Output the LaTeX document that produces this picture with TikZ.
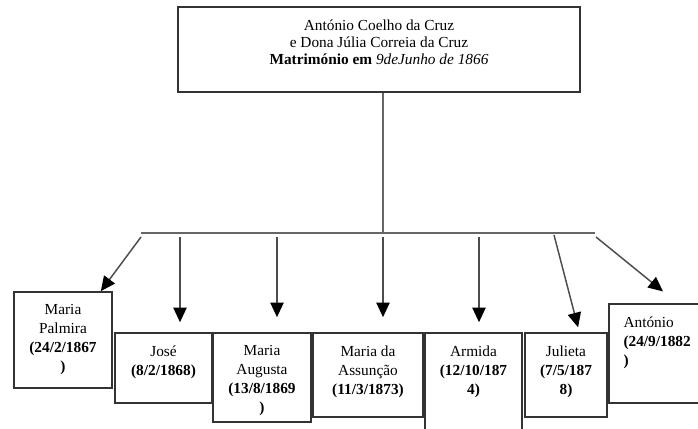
\documentclass[tikz,border=0pt]{standalone}
\usepackage{fontspec}
\setmainfont{Liberation Serif}
\usetikzlibrary{arrows.meta,fit}

\tikzset{every picture/.style={line width=0.75pt}}

\begin{document}
\begin{tikzpicture}[x=0.75pt,y=0.75pt,yscale=-1,xscale=1,
    box/.style={draw=black!80,line width=1.2pt,inner sep=0pt},
    kidtext/.style={inner sep=0pt,align=center,font=\fontsize{11.5}{14.25}\selectfont},
    bar/.style={draw=black!60,line width=1.6pt},
    arr/.style={draw=black!70,line width=1.1pt,-{Triangle[length=11pt,width=10pt,color=black]}}]
        \clip (0,0) rectangle (698,428);

        %Shape: Rectangle [parents]
        \node[box,fit={(178,7) (580,92)}] (parents) {};
        % Text Node
        \node[kidtext,font=\fontsize{11.5}{13}\selectfont,anchor=north] (parentsT) at (379,19) {António Coelho da Cruz\\e Dona Júlia Correia da Cruz\\\textbf{Matrimónio em} \textit{9deJunho de 1866}};

        %Straight Lines [stem and bar]
        \coordinate (stem) at (383,233);
        \coordinate (barL) at (141,233);
        \coordinate (barR) at (595,233);
        \draw[bar] (parents.south -| stem) -- (stem);
        \draw[bar] (barL) -- (barR);

        %Shape: Rectangle [children]
        \node[box,fit={(14,292) (112,388)}] (palmira) {};
        \node[box,fit={(115,333) (212,403)}] (jose) {};
        \node[box,fit={(213,333) (311,422)}] (augusta) {};
        \node[box,fit={(313,333) (423,417)}] (assuncao) {};
        \node[box,fit={(425,333) (522,450)}] (armida) {};
        \node[box,fit={(525,333) (607,417)}] (julieta) {};
        \node[box,fit={(609,304) (746,403)}] (antonio) {};

        % Text Node
        \node[kidtext,anchor=north] (palmiraT) at (63,304) {Maria\\Palmira\\\textbf{(24/2/1867}\\\textbf{)}};
        % Text Node
        \node[kidtext,anchor=north] (joseT) at (163.5,345) {José\\\textbf{(8/2/1868)}};
        % Text Node
        \node[kidtext,anchor=north] (augustaT) at (262,345) {Maria\\Augusta\\\textbf{(13/8/1869}\\\textbf{)}};
        % Text Node
        \node[kidtext,anchor=north] (assuncaoT) at (368,345) {Maria da\\Assunção\\\textbf{(11/3/1873)}};
        % Text Node
        \node[kidtext,anchor=north] (armidaT) at (473.5,345) {Armida\\\textbf{(12/10/187}\\\textbf{4)}};
        % Text Node
        \node[kidtext,anchor=north] (julietaT) at (566,345) {Julieta\\\textbf{(7/5/187}\\\textbf{8)}};
        % Text Node
        \node[kidtext,align=left,anchor=north west] (antonioT) at (623,316) {António\\\textbf{(24/9/1882}\\\textbf{)}};

        %Arrows [bar to children]
        \coordinate (b1) at (141,237);
        \coordinate (b2) at (180,237);
        \coordinate (b3) at (277,237);
        \coordinate (b4) at (383,237);
        \coordinate (b5) at (479,237);
        \coordinate (b6) at (554,235);
        \coordinate (b7) at (596,237);
        \draw[arr] (b1) -- ([xshift=-9pt]palmira.north east);
        \draw[arr,shorten >=7.5pt] (b2) -- (b2 |- jose.north);
        \draw[arr,shorten >=11.25pt] (b3) -- (b3 |- augusta.north);
        \draw[arr,shorten >=11.25pt] (b4) -- (b4 |- assuncao.north);
        \draw[arr,shorten >=7.5pt] (b5) -- (b5 |- armida.north);
        \draw[arr,shorten >=3.75pt] (b6) -- ([xshift=10pt]julieta.north);
        \draw[arr,shorten >=14pt] (b7) -- (antonio.north);
\end{tikzpicture}
\end{document}
